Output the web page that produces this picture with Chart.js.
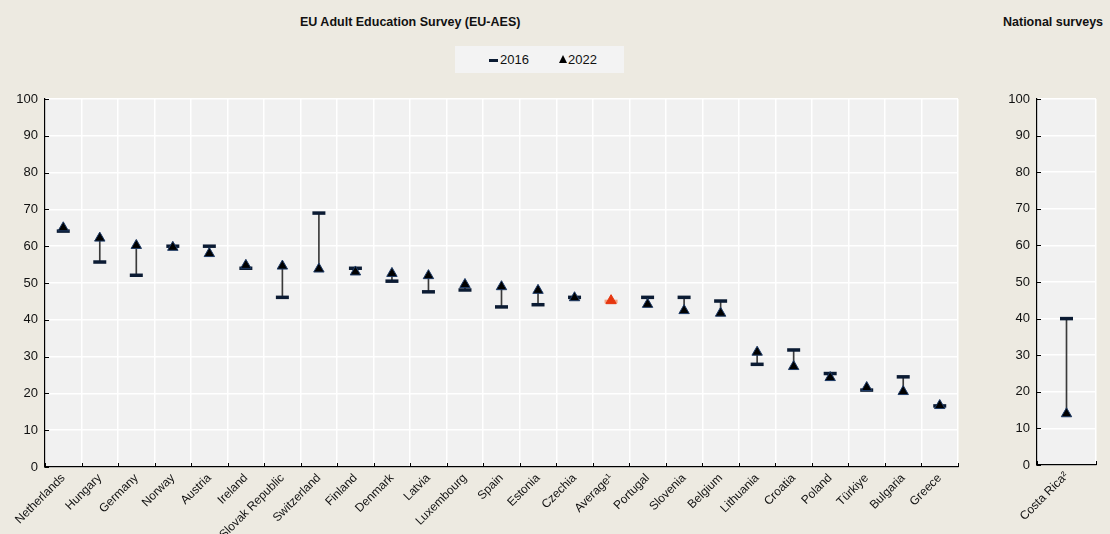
<!DOCTYPE html>
<html>
<head>
<meta charset="utf-8">
<script src="https://cdn.jsdelivr.net/npm/chart.js@4/dist/chart.umd.min.js"></script>
<style>
  body { margin: 0; background: #edeae1; width: 1110px; height: 534px; overflow: hidden; position: relative;
         font-family: 'Liberation Sans Narrow', 'Arial Narrow', 'Liberation Sans', Arial, sans-serif; color: #111; }
  .panel { position: absolute; top: 0; }
  .title { position: absolute; font-weight: bold; font-size: 12.5px; white-space: nowrap; }
  #legend { position: absolute; left: 455px; top: 46px; width: 169px; height: 27px; background: #f3f3f3;
            font-size: 13px; }
  #legend span { position: absolute; top: 6px; }
</style>
</head>
<body>
<div class="title" style="left:300px; top:15px;">EU Adult Education Survey (EU-AES)</div>
<div class="title" style="left:1003px; top:15px;">National surveys</div>
<div id="legend">
  <span style="left:34px;"><b style="display:inline-block;width:9px;height:3px;background:#0b1b33;vertical-align:middle;margin-right:2px;"></b>2016</span>
  <span style="left:104px;"><b style="display:inline-block;width:0;height:0;border-left:4px solid transparent;border-right:4px solid transparent;border-bottom:8px solid #000;vertical-align:1px;margin-right:1px;"></b>2022</span>
</div>
<div class="panel" style="left:0;"><canvas id="main" width="970" height="534"></canvas></div>
<div class="panel" style="left:970px;"><canvas id="side" width="140" height="534"></canvas></div>
<script>
// participation rates, %
const categories = ['Netherlands', 'Hungary', 'Germany', 'Norway', 'Austria', 'Ireland', 'Slovak Republic',
  'Switzerland', 'Finland', 'Denmark', 'Latvia', 'Luxembourg', 'Spain', 'Estonia', 'Czechia', 'Average¹',
  'Portugal', 'Slovenia', 'Belgium', 'Lithuania', 'Croatia', 'Poland', 'Türkiye', 'Bulgaria', 'Greece'];
const v2016 = [64.1, 55.7, 52.1, 60.0, 60.0, 54.0, 46.1, 69.0, 54.0, 50.5, 47.6, 48.1, 43.5, 44.1, 46.1, 45.0,
  46.1, 46.1, 45.1, 27.9, 31.8, 25.4, 20.9, 24.5, 16.6];
const v2022 = [65.0, 62.2, 60.2, 59.7, 58.0, 54.8, 54.6, 53.8, 53.0, 52.6, 52.0, 49.6, 49.0, 48.0, 46.0, 45.2,
  44.2, 42.5, 41.8, 31.2, 27.3, 24.3, 21.6, 20.5, 16.7];
const sideCategories = ['Costa Rica²'];
const side2016 = [40.0];
const side2022 = [14.0];
const yTicks = [0, 10, 20, 30, 40, 50, 60, 70, 80, 90, 100];
const highlight = 'Average¹';

const FONT = "'Liberation Sans Narrow', 'Arial Narrow', 'Liberation Sans', Arial, sans-serif";
const NAVY = '#0b1b33';

// plot area background + inward tick marks
const panelPlugin = {
  id: 'panel',
  beforeDraw(chart) {
    const a = chart.chartArea, ctx = chart.ctx;
    ctx.save();
    ctx.fillStyle = '#f1f1f1';
    ctx.fillRect(a.left, a.top, a.right - a.left, a.bottom - a.top);
    ctx.restore();
  },
  afterDraw(chart) {
    const a = chart.chartArea, ctx = chart.ctx;
    const x = chart.scales.x, y = chart.scales.y;
    ctx.save();
    ctx.strokeStyle = '#000';
    ctx.lineWidth = 1;
    ctx.beginPath();
    yTicks.forEach(t => {
      const py = Math.round(y.getPixelForValue(t)) + 0.5;
      ctx.moveTo(a.left, py); ctx.lineTo(a.left + 4, py);
    });
    const n = x.ticks.length;
    for (let i = 0; i <= n; i++) {
      const px = Math.round(a.left + (a.right - a.left) * i / n) + 0.5;
      ctx.moveTo(px, a.bottom); ctx.lineTo(px, a.bottom - 4);
    }
    ctx.stroke();
    ctx.restore();
  }
};

function build(id, cats, a, b, leftW, bottomH, rightPad) {
  const dash = cats.map(c => c === highlight ? '#f4a080' : NAVY);
  const tri = cats.map(c => c === highlight ? '#e6360f' : '#000');
  const triBorder = cats.map(c => c === highlight ? '#e6360f' : '#1d3a66');
  new Chart(document.getElementById(id), {
    type: 'bar',
    data: {
      labels: cats,
      datasets: [
        {
          type: 'bar', label: 'range', order: 3,
          data: cats.map((c, i) => c === highlight ? null : [a[i], b[i]]),
          backgroundColor: '#3a3a3a', barThickness: 1, borderWidth: 0
        },
        {
          type: 'line', label: '2016', order: 2, showLine: false,
          data: a, pointStyle: 'line', pointRadius: 6.5, pointBorderWidth: 3.5,
          pointBorderColor: dash, pointBackgroundColor: dash
        },
        {
          type: 'line', label: '2022', order: 1, showLine: false,
          data: b, pointStyle: 'triangle', pointRadius: 6, pointBorderWidth: 1,
          pointBackgroundColor: tri, pointBorderColor: triBorder
        }
      ]
    },
    options: {
      responsive: false, animation: false,
      devicePixelRatio: 1,
      layout: { padding: { top: 99, right: rightPad, left: 0, bottom: 0 } },
      plugins: { legend: { display: false }, tooltip: { enabled: false } },
      scales: {
        x: {
          offset: true,
          grid: { offset: true, color: '#ffffff', lineWidth: 1.5, drawTicks: false },
          border: { color: '#000', width: 1.2 },
          ticks: { color: '#111', font: { family: FONT, size: 12 }, minRotation: 45, maxRotation: 45, padding: 4, autoSkip: false },
          afterFit(s) { s.height = bottomH; }
        },
        y: {
          min: 0, max: 100,
          afterBuildTicks(s) { s.ticks = yTicks.map(v => ({ value: v })); },
          grid: { color: '#ffffff', lineWidth: 1.5, drawTicks: false },
          border: { color: '#000', width: 1.2 },
          ticks: { color: '#111', font: { family: FONT, size: 13 }, padding: 7 },
          afterFit(s) { s.width = leftW; }
        }
      }
    },
    plugins: [panelPlugin]
  });
}

build('main', categories, v2016, v2022, 45, 67, 12);
build('side', sideCategories, side2016, side2022, 67, 69, 14);
</script>
</body>
</html>
